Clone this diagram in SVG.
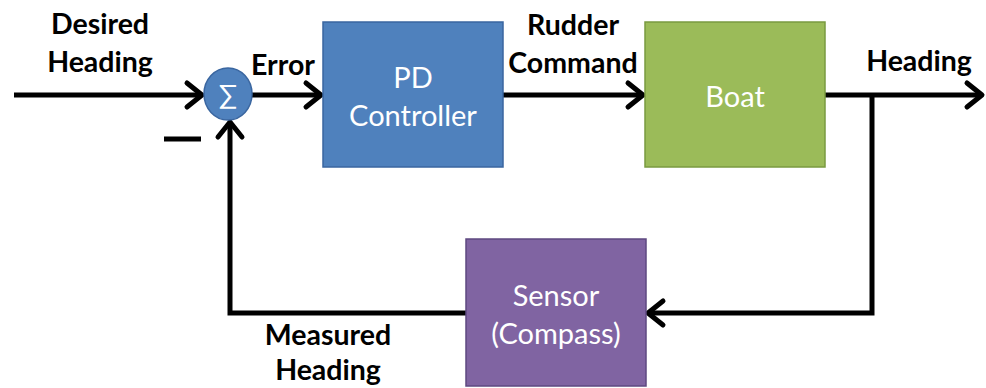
<svg xmlns="http://www.w3.org/2000/svg" width="986" height="388" viewBox="0 0 986 388">
<defs>
<marker id="arr" markerUnits="userSpaceOnUse" markerWidth="40" markerHeight="40" viewBox="-20 -20 40 40" refX="0" refY="0" orient="auto" overflow="visible">
<path d="M -15 -12 L 0 0 L -15 12" fill="none" stroke="#000" stroke-width="5" stroke-linecap="round" stroke-linejoin="round"/>
</marker>
</defs>
<style>
.lbl{font-family:Lato,"Open Sans","Liberation Sans",sans-serif;font-weight:bold;font-size:28.5px;fill:#000;text-anchor:middle}
.box{font-family:Lato,"Open Sans","Liberation Sans",sans-serif;font-size:29px;fill:#fff;text-anchor:middle}
.ln{fill:none;stroke:#000;stroke-width:5}
</style>
<rect width="986" height="388" fill="#fff"/>
<g id="connectors">
<path class="ln" d="M 14 95 L 202 95" marker-end="url(#arr)"/>
<path class="ln" d="M 252 95 L 321 95" marker-end="url(#arr)"/>
<path class="ln" d="M 503 95 L 643 95" marker-end="url(#arr)"/>
<path class="ln" d="M 825 95 L 982 95" marker-end="url(#arr)"/>
<path class="ln" d="M 872 95 L 872 313 L 648 313" marker-end="url(#arr)"/>
<path class="ln" d="M 466 313 L 230 313 L 230 122" marker-end="url(#arr)"/>
<line x1="164" y1="139" x2="201" y2="139" stroke="#000" stroke-width="5"/>
</g>
<g id="sum">
<ellipse cx="228" cy="94" rx="24" ry="26" fill="#4F81BD" stroke="#3A66A0" stroke-width="1.5"/>
<text x="228" y="104" class="box" style="font-size:27px">∑</text>
</g>
<g id="pd">
<rect x="323" y="22" width="180" height="145" fill="#4F81BD" stroke="#3A66A0" stroke-width="1.5"/>
<text x="413" y="88" class="box">PD</text>
<text x="413" y="126" class="box">Controller</text>
</g>
<g id="boat">
<rect x="645" y="22" width="180" height="145" fill="#9BBB59" stroke="#7A9A40" stroke-width="1.5"/>
<text x="735" y="107" class="box">Boat</text>
</g>
<g id="sensor">
<rect x="466" y="239" width="180" height="147" fill="#8064A2" stroke="#5E4880" stroke-width="1.5"/>
<text x="556" y="306" class="box">Sensor</text>
<text x="556" y="344" class="box">(Compass)</text>
</g>
<g id="labels">
<text class="lbl" x="100" y="34">Desired</text>
<text class="lbl" x="100" y="72">Heading</text>
<text class="lbl" x="283" y="75">Error</text>
<text class="lbl" x="573" y="35">Rudder</text>
<text class="lbl" x="573" y="73">Command</text>
<text class="lbl" x="919" y="71">Heading</text>
<text class="lbl" x="328" y="345">Measured</text>
<text class="lbl" x="328" y="380">Heading</text>
</g>
</svg>
